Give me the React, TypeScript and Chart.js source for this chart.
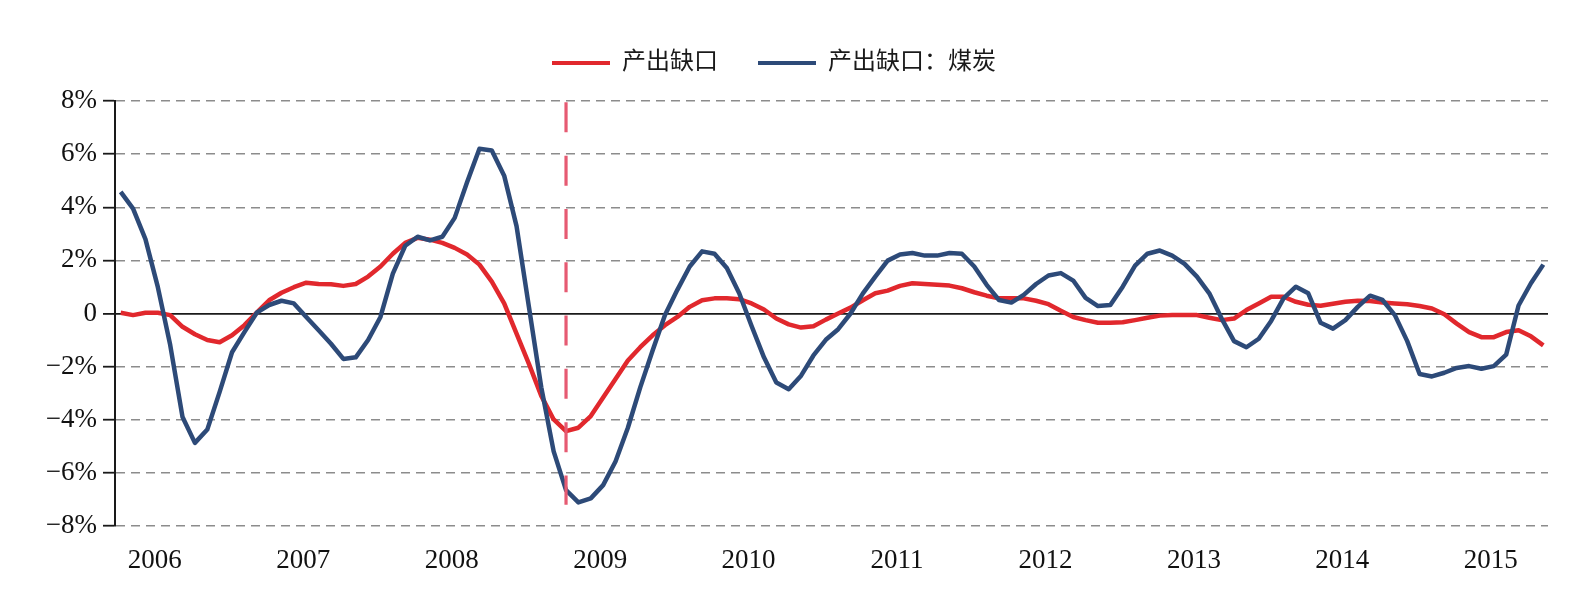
import React, { useEffect, useRef } from "react";
import { Chart, registerables } from "chart.js";

Chart.register(...registerables);

// Monthly observations, 2005-10 .. 2015-05
const firstYear = 2005;
const firstMonth = 10;
const monthCount = 116;
const monthLabels: string[] = [];
for (let k = 0; k < monthCount; k++) {
  const m = firstMonth - 1 + k;
  const yy = firstYear + Math.floor(m / 12);
  const mm = (m % 12) + 1;
  monthLabels.push(`${yy}-${mm < 10 ? "0" + mm : mm}`);
}

// 产出缺口 (%)
const outputGap: number[] = [
  0.03, -0.06, 0.03, 0.03, -0.06, -0.5, -0.78, -1.0, -1.08, -0.82,
  -0.44, 0.03, 0.5, 0.78, 0.99, 1.16, 1.11, 1.1, 1.04, 1.11,
  1.39, 1.77, 2.25, 2.66, 2.85, 2.78, 2.66, 2.47, 2.22, 1.84,
  1.2, 0.38, -0.76, -1.9, -3.1, -3.99, -4.43, -4.3, -3.86, -3.16,
  -2.47, -1.77, -1.27, -0.82, -0.44, -0.13, 0.25, 0.5, 0.57, 0.57,
  0.54, 0.38, 0.15, -0.19, -0.41, -0.53, -0.48, -0.23, 0.0, 0.22,
  0.5, 0.76, 0.86, 1.04, 1.14, 1.11, 1.08, 1.05, 0.95, 0.8,
  0.67, 0.57, 0.57, 0.57, 0.48, 0.35, 0.1, -0.13, -0.25, -0.35,
  -0.35, -0.33, -0.25, -0.16, -0.08, -0.06, -0.06, -0.06, -0.16, -0.25,
  -0.19, 0.13, 0.38, 0.63, 0.63, 0.44, 0.33, 0.29, 0.37, 0.44,
  0.48, 0.47, 0.41, 0.38, 0.35, 0.28, 0.19, -0.03, -0.38, -0.7,
  -0.89, -0.89, -0.7, -0.63, -0.86, -1.2,
];

// 产出缺口：煤炭 (%)
const coalGap: number[] = [
  4.58, 3.95, 2.8, 1.0, -1.18, -3.9, -4.87, -4.37, -2.95, -1.46,
  -0.7, 0.03, 0.32, 0.48, 0.38, -0.13, -0.63, -1.14, -1.71, -1.65,
  -1.0, -0.13, 1.5, 2.55, 2.89, 2.75, 2.89, 3.6, 4.94, 6.2,
  6.14, 5.19, 3.29, 0.25, -2.78, -5.19, -6.65, -7.11, -6.96, -6.46,
  -5.57, -4.3, -2.78, -1.39, -0.06, 0.89, 1.77, 2.34, 2.25, 1.71,
  0.76, -0.47, -1.65, -2.6, -2.85, -2.34, -1.58, -0.99, -0.59, 0.0,
  0.76, 1.39, 1.99, 2.22, 2.28, 2.18, 2.18, 2.28, 2.25, 1.77,
  1.08, 0.51, 0.41, 0.7, 1.11, 1.43, 1.52, 1.24, 0.59, 0.28,
  0.32, 1.01, 1.8, 2.25, 2.37, 2.18, 1.87, 1.39, 0.76, -0.19,
  -1.04, -1.27, -0.95, -0.28, 0.57, 1.01, 0.76, -0.35, -0.57, -0.25,
  0.25, 0.67, 0.51, -0.06, -1.04, -2.28, -2.37, -2.23, -2.05, -1.98,
  -2.08, -1.98, -1.55, 0.3, 1.14, 1.84,
];

const seriesNames = ["产出缺口", "产出缺口：煤炭"];
const seriesColors = ["#e1282d", "#2d4a78"];

const yTickValues = [8, 6, 4, 2, 0, -2, -4, -6, -8];
const yTickLabels = ["8%", "6%", "4%", "2%", "0", "−2%", "−4%", "−6%", "−8%"];
const yearLabels = ["2006", "2007", "2008", "2009", "2010", "2011", "2012", "2013", "2014", "2015"];

// Crisis marker (vertical dashed line)
const markerMonth = "2008-10";
const markerRange = [7.95, -7.2];

const SERIF = "'Liberation Serif', 'Times New Roman', 'Noto Sans CJK SC', serif";

const legendSpacer = {
  id: "legendSpacer",
  beforeLayout(chart: any) {
    const lg = chart.legend;
    if (lg && !lg.__spaced) {
      const orig = lg.fit.bind(lg);
      lg.fit = function () {
        orig();
        this.height += 16;
      };
      lg.__spaced = true;
    }
  },
};

export default function App() {
  const ref = useRef<HTMLCanvasElement | null>(null);

  useEffect(() => {
    document.body.style.margin = "0";
    const canvas = ref.current;
    if (!canvas) return;

    const toXY = (arr: number[]) => arr.map((v, i) => ({ x: i, y: v }));
    const markerIdx = monthLabels.indexOf(markerMonth);
    const yearTickIdx = yearLabels.map((y) => monthLabels.indexOf(`${y}-01`));

    const chart = new Chart(canvas, {
      type: "line",
      data: {
        datasets: [
          {
            label: seriesNames[0],
            data: toXY(outputGap),
            borderColor: seriesColors[0],
            backgroundColor: seriesColors[0],
            borderWidth: 4.5,
            pointRadius: 0,
            tension: 0,
            borderJoinStyle: "round",
            order: 2,
          },
          {
            label: seriesNames[1],
            data: toXY(coalGap),
            borderColor: seriesColors[1],
            backgroundColor: seriesColors[1],
            borderWidth: 4.5,
            pointRadius: 0,
            tension: 0,
            borderJoinStyle: "round",
            order: 1,
          },
          {
            label: "marker",
            data: markerRange.map((v) => ({ x: markerIdx, y: v })),
            borderColor: "#e65a72",
            borderWidth: 3.2,
            borderDash: [30, 23.3],
            pointRadius: 0,
            order: 0,
          },
        ],
      },
      options: {
        responsive: false,
        animation: false,
        layout: { padding: { left: 0, right: 38, top: 11, bottom: 0 } },
        plugins: {
          tooltip: { enabled: false },
          legend: {
            display: true,
            position: "top",
            align: "center",
            labels: {
              boxWidth: 58,
              boxHeight: 4,
              padding: 40,
              color: "#1a1a1a",
              font: { family: SERIF, size: 24 },
              generateLabels: (c: any) =>
                c.data.datasets.slice(0, 2).map((ds: any, i: number) => ({
                  text: ds.label,
                  fillStyle: ds.borderColor,
                  strokeStyle: ds.borderColor,
                  lineWidth: 0,
                  hidden: false,
                  datasetIndex: i,
                  fontColor: "#1a1a1a",
                })),
            },
          },
        },
        scales: {
          x: {
            type: "linear",
            min: -0.46,
            max: 115.38,
            afterBuildTicks: (s: any) => {
              s.ticks = yearTickIdx.map((v) => ({ value: v }));
            },
            afterFit: (s: any) => {
              s.height = 77;
            },
            grid: { display: false, drawTicks: false },
            border: { display: false },
            ticks: {
              autoSkip: false,
              maxRotation: 0,
              padding: 19,
              labelOffset: -3,
              color: "#111",
              font: { family: SERIF, size: 27 },
              callback: (v: any) => monthLabels[Math.round(v)].slice(0, 4),
            },
          },
          y: {
            min: -8,
            max: 8,
            afterBuildTicks: (s: any) => {
              s.ticks = yTickValues.map((v) => ({ value: v }));
            },
            afterFit: (s: any) => {
              s.width = 115;
            },
            grid: {
              color: (ctx: any) => (ctx.tick && ctx.tick.value === 0 ? "#1a1a1a" : "#8c8c8c"),
              lineWidth: (ctx: any) => (ctx.tick && ctx.tick.value === 0 ? 1.8 : 1.4),
              tickLength: 12,
              tickColor: "#1a1a1a",
              tickWidth: 1.8,
              tickBorderDash: [],
            },
            border: {
              display: true,
              color: "#1a1a1a",
              width: 2,
              dash: (ctx: any) => (ctx.tick && ctx.tick.value === 0 ? [] : [9, 6]),
            },
            ticks: {
              padding: 6,
              color: "#111",
              font: { family: SERIF, size: 27 },
              callback: (v: any) => {
                const k = yTickValues.indexOf(Number(v));
                return k >= 0 ? yTickLabels[k] : "";
              },
            },
          },
        },
      },
      plugins: [legendSpacer],
    } as any);

    return () => chart.destroy();
  }, []);

  return (
    <div style={{ width: 1586, height: 603, background: "#fff" }}>
      <canvas ref={ref} width={1586} height={603} style={{ display: "block" }} />
    </div>
  );
}
